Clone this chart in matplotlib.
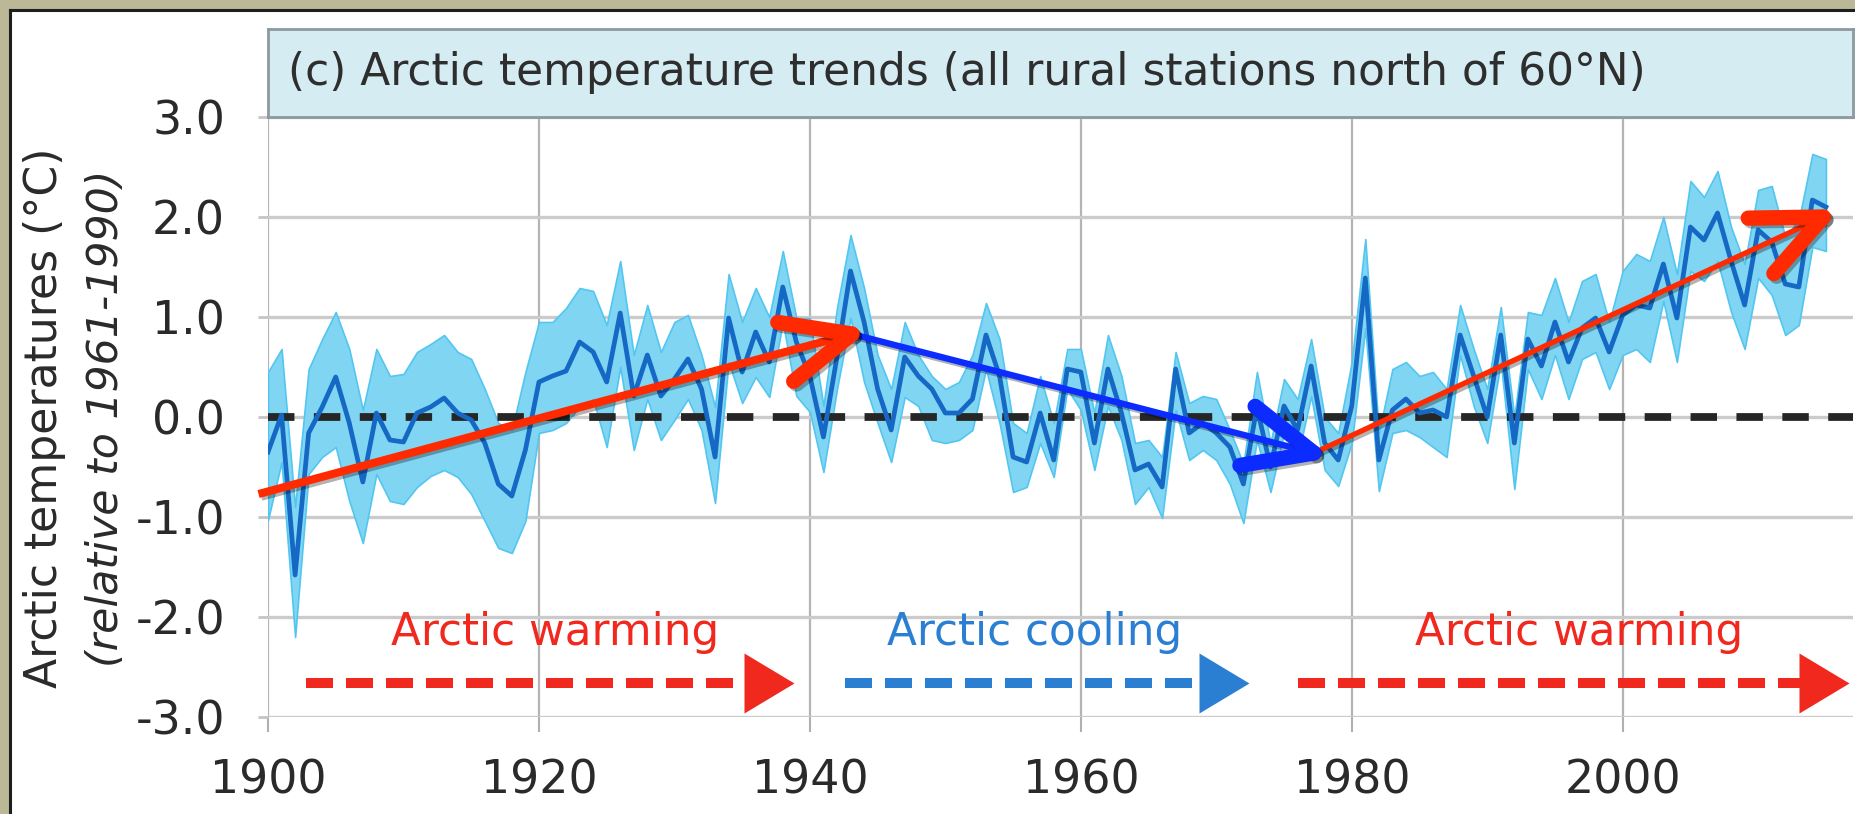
"""
Arctic temperature trends (rural stations north of 60N), with trend arrows.
Saves out.png
"""

import numpy as np
import matplotlib
matplotlib.use("Agg")
import matplotlib.pyplot as plt
import matplotlib.patheffects as pe
from matplotlib.patches import Rectangle
from matplotlib.lines import Line2D
from matplotlib.transforms import IdentityTransform

plt.rcParams['font.family'] = ['DejaVu Sans']

# annual anomalies (1900-2015)
years = list(range(1900, 2016))
meanAnomaly = [
    -0.35, 0.02, -1.58, -0.16, 0.10, 0.40, -0.06, -0.65, 0.04, -0.23,
    -0.25, 0.04, 0.10, 0.19, 0.04, -0.03, -0.26, -0.67, -0.79, -0.33,
    0.35, 0.41, 0.46, 0.75, 0.65, 0.35, 1.04, 0.21, 0.62, 0.21,
    0.38, 0.58, 0.28, -0.40, 0.99, 0.45, 0.85, 0.55, 1.30, 0.75,
    0.41, -0.20, 0.60, 1.46, 0.95, 0.28, -0.13, 0.60, 0.41, 0.28,
    0.04, 0.04, 0.18, 0.82, 0.41, -0.40, -0.45, 0.04, -0.43, 0.48,
    0.45, -0.26, 0.48, 0.04, -0.53, -0.47, -0.70, 0.48, -0.16, -0.06,
    -0.16, -0.30, -0.67, 0.10, -0.50, 0.11, -0.13, 0.51, -0.26, -0.43,
    0.11, 1.39, -0.43, 0.07, 0.18, 0.04, 0.07, 0.00, 0.82, 0.41,
    0.00, 0.82, -0.26, 0.78, 0.51, 0.95, 0.55, 0.89, 0.99, 0.65,
    1.02, 1.12, 1.09, 1.53, 0.99, 1.90, 1.77, 2.04, 1.56, 1.12,
    1.87, 1.75, 1.33, 1.30, 2.17, 2.10,
]
upperBound = [
    0.45, 0.68, -0.90, 0.48, 0.78, 1.05, 0.68, 0.07, 0.68, 0.41,
    0.43, 0.65, 0.73, 0.82, 0.65, 0.58, 0.28, -0.06, -0.13, 0.45,
    0.95, 0.95, 1.09, 1.29, 1.26, 0.92, 1.56, 0.62, 1.12, 0.65,
    0.95, 1.02, 0.62, 0.10, 1.43, 0.95, 1.29, 1.00, 1.66, 0.99,
    0.99, 0.11, 1.09, 1.82, 1.29, 0.62, 0.28, 0.95, 0.62, 0.41,
    0.28, 0.35, 0.62, 1.14, 0.78, -0.06, -0.16, 0.41, -0.06, 0.68,
    0.68, 0.04, 0.82, 0.41, -0.26, -0.23, -0.40, 0.65, 0.14, 0.21,
    0.18, -0.13, -0.47, 0.45, -0.26, 0.38, 0.18, 0.78, 0.00, -0.16,
    0.55, 1.78, -0.16, 0.48, 0.55, 0.41, 0.45, 0.28, 1.12, 0.68,
    0.28, 1.10, 0.00, 1.05, 1.02, 1.39, 0.95, 1.36, 1.43, 0.95,
    1.46, 1.63, 1.56, 2.00, 1.43, 2.36, 2.20, 2.46, 1.90, 1.53,
    2.27, 2.31, 1.80, 1.97, 2.63, 2.58,
]
lowerBound = [
    -1.03, -0.45, -2.20, -0.57, -0.40, -0.30, -0.84, -1.26, -0.57, -0.84,
    -0.87, -0.70, -0.59, -0.53, -0.60, -0.77, -1.04, -1.31, -1.36, -1.04,
    -0.16, -0.13, -0.06, 0.10, 0.18, -0.30, 0.50, -0.33, 0.18, -0.23,
    -0.03, 0.18, -0.13, -0.86, 0.55, 0.14, 0.40, 0.20, 0.95, 0.21,
    0.05, -0.55, 0.28, 0.99, 0.35, -0.06, -0.45, 0.20, 0.11, -0.23,
    -0.26, -0.23, -0.13, 0.48, -0.06, -0.75, -0.70, -0.26, -0.60, 0.28,
    0.07, -0.53, 0.11, -0.23, -0.87, -0.70, -1.01, 0.07, -0.43, -0.33,
    -0.43, -0.67, -1.06, -0.23, -0.75, -0.16, -0.40, 0.21, -0.53, -0.69,
    -0.26, 0.89, -0.74, -0.16, -0.13, -0.20, -0.30, -0.40, 0.62, 0.11,
    -0.26, 0.55, -0.72, 0.48, 0.18, 0.62, 0.18, 0.58, 0.65, 0.28,
    0.62, 0.68, 0.55, 1.16, 0.55, 1.46, 1.36, 1.56, 1.05, 0.68,
    1.39, 1.22, 0.82, 0.92, 1.70, 1.66,
]

# hand-drawn trend arrows (year, anomaly)
trendStartYears = [1899.3, 1943.1, 1977.2]
trendEndYears = [1943.1, 1977.2, 2014.8]
trendStartValues = [-0.77, 0.83, -0.36]
trendEndValues = [0.83, -0.36, 2.00]
trendColors = ['#ff2a00', '#0b2bff', '#ff2a00']
trendWidths = [5.8, 4.6, 3.8]

# period labels with dashed arrows
periodLabels = ["Arctic warming", "Arctic cooling", "Arctic warming"]
periodStartYears = [1902.8, 1942.6, 1976.0]
periodEndYears = [1938.8, 1972.4, 2016.7]
periodLabelYears = [1921.2, 1956.6, 1996.8]
periodColors = ['#f0281e', '#2a7fd2', '#f0281e']
periodLabelValue = -2.15
periodArrowValue = -2.66

xTicks = [1900, 1920, 1940, 1960, 1980, 2000]
yTicks = [-3, -2, -1, 0, 1, 2, 3]
yTickLabels = ['-3.0', '-2.0', '-1.0', '0.0', '1.0', '2.0', '3.0']

titleText = "(c) Arctic temperature trends (all rural stations north of 60\u00b0N)"
yLabelMain = "Arctic temperatures (\u00b0C)"
yLabelSub = "(relative to 1961-1990)"

W, H = 1856, 814
fig = plt.figure(figsize=(W / 100, H / 100), dpi=100)
fig.patch.set_facecolor('white')

# slide frame (olive strip on top and left)
olive = '#bab897'
fig.patches.append(Rectangle((0, 1 - 8 / H), 1, 8 / H, transform=fig.transFigure, color=olive, zorder=0))
fig.patches.append(Rectangle((0, 0), 9 / W, 1, transform=fig.transFigure, color=olive, zorder=0))
fig.add_artist(Line2D([10 / W, 1], [1 - 9.5 / H, 1 - 9.5 / H], transform=fig.transFigure, color='#1e1e1e', lw=2.2))
fig.add_artist(Line2D([10 / W, 10 / W], [0, 1 - 9.5 / H], transform=fig.transFigure, color='#1e1e1e', lw=2.2))

axLeft, axRight, axTop, axBottom = 268, 1853, 117, 717
ax = fig.add_axes([axLeft / W, 1 - axBottom / H, (axRight - axLeft) / W, (axBottom - axTop) / H])
ax.set_xlim(1900, 2017)
ax.set_ylim(-3, 3)
for spine in ax.spines.values():
    spine.set_visible(False)

ax.set_xticks(xTicks)
ax.set_xticklabels([str(t) for t in xTicks])
ax.set_yticks(yTicks)
ax.set_yticklabels(yTickLabels)
ax.tick_params(axis='x', length=11, width=1.5, color='#b0b0b0', pad=19, labelsize=33, labelcolor='#2a2a2a')
ax.tick_params(axis='y', length=7, width=2, color='#c4c4c4', pad=24, labelsize=33, labelcolor='#2a2a2a')
ax.grid(axis='x', color='#b4b4b4', lw=1.6, zorder=0)
ax.grid(axis='y', color='#cbcbcb', lw=2.4, zorder=0)
ax.set_axisbelow(True)

# uncertainty band and mean series
ax.fill_between(years, lowerBound, upperBound, facecolor='#80d5f3', edgecolor='#52c6f1', lw=1.2, zorder=2)
ax.axhline(0, color='#262626', lw=5.6, dashes=(3.4, 2.5), zorder=3)
ax.plot(years, meanAnomaly, color='#1568c4', lw=3.4, zorder=4)

# period labels + dashed arrows
markerVerts = [(-1, -0.6), (0, 0), (-1, 0.6), (-1, -0.6)]
for label, x0, x1, xt, col in zip(periodLabels, periodStartYears, periodEndYears, periodLabelYears, periodColors):
    ax.text(xt, periodLabelValue, label, color=col, fontsize=31.5, ha='center', va='center', zorder=6)
    ax.plot([x0, x1 - 2.0], [periodArrowValue, periodArrowValue], color=col, lw=7.2,
            dashes=(2.7, 1.3), dash_capstyle='butt', zorder=6, clip_on=False)
    ax.plot([x1], [periodArrowValue], marker=markerVerts, markersize=72, color=col,
            markeredgewidth=0, linestyle='none', zorder=6, clip_on=False)

# trend arrows: shaft in data coords, arrow arms in pixels
shadow = [pe.SimpleLineShadow(offset=(2, -2), alpha=0.3, shadow_color='k'), pe.Normal()]
for xs, xe, ys, ye, col, lw in zip(trendStartYears, trendEndYears, trendStartValues, trendEndValues, trendColors, trendWidths):
    ax.plot([xs, xe], [ys, ye], color=col, lw=lw, solid_capstyle='butt', zorder=7,
            clip_on=False, path_effects=shadow)
    (px0, py0), (px1, py1) = ax.transData.transform([(xs, ys), (xe, ye)])
    back = np.arctan2(py0 - py1, px0 - px1)
    for side in (-1, 1):
        ang = back + side * np.radians(24)
        fig.add_artist(Line2D([px1, px1 + 75 * np.cos(ang)], [py1, py1 + 75 * np.sin(ang)],
                              transform=IdentityTransform(), color=col, lw=11,
                              solid_capstyle='round', zorder=8, path_effects=shadow))

# title box above the axes
boxTop = 29
titleAx = fig.add_axes([axLeft / W, 1 - axTop / H, (axRight - axLeft) / W, (axTop - boxTop) / H])
titleAx.set_xticks([])
titleAx.set_yticks([])
titleAx.set_facecolor('#d6ecf3')
for spine in titleAx.spines.values():
    spine.set_color('#8c999e')
    spine.set_linewidth(2)
titleAx.text(20 / (axRight - axLeft), 0.5, titleText, fontsize=31.6, color='#2e2e2e',
             ha='left', va='center', transform=titleAx.transAxes)

# two-line y label
fig.text(45 / W, 1 - 418 / H, yLabelMain, rotation=90, fontsize=31.8, color='#2a2a2a',
         ha='center', va='center')
fig.text(106 / W, 1 - 418 / H, yLabelSub, rotation=90, fontsize=30.7, style='italic', color='#2a2a2a',
         ha='center', va='center')

fig.savefig("out.png", dpi=100)
plt.close(fig)
